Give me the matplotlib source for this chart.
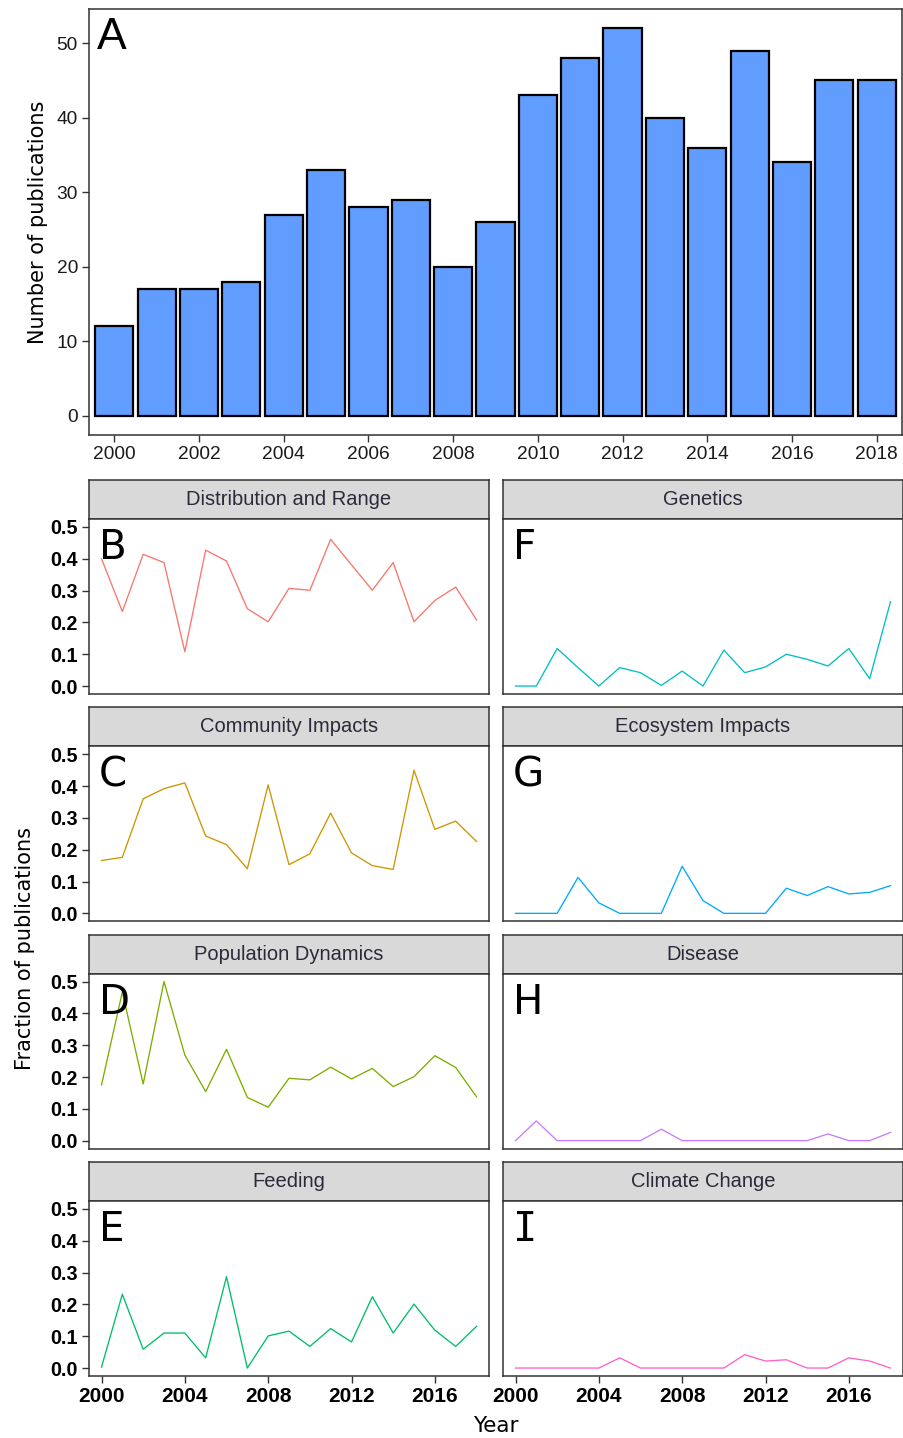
import matplotlib
matplotlib.use("Agg")
import matplotlib.pyplot as plt
import numpy as np

years = list(range(2000, 2019))
publications = [12, 17, 17, 18, 27, 33, 28, 29, 20, 26, 43, 48, 52, 40, 36, 49, 34, 45, 45]

dist_range = [0.40, 0.234, 0.414, 0.388, 0.108, 0.427, 0.393, 0.243, 0.202, 0.307,
              0.301, 0.461, 0.381, 0.301, 0.388, 0.202, 0.269, 0.311, 0.208]
community = [0.166, 0.176, 0.360, 0.392, 0.410, 0.243, 0.216, 0.140, 0.404, 0.153,
             0.187, 0.315, 0.190, 0.150, 0.138, 0.450, 0.264, 0.290, 0.226]
population = [0.175, 0.467, 0.178, 0.500, 0.269, 0.154, 0.287, 0.136, 0.105, 0.196,
              0.191, 0.231, 0.194, 0.227, 0.170, 0.201, 0.267, 0.230, 0.138]
feeding = [0.003, 0.232, 0.059, 0.110, 0.110, 0.032, 0.287, 0.0, 0.101, 0.116,
           0.068, 0.124, 0.082, 0.224, 0.110, 0.201, 0.119, 0.068, 0.131]
genetics = [0.0, 0.0, 0.118, 0.058, 0.0, 0.058, 0.042, 0.002, 0.047, 0.0,
            0.113, 0.042, 0.060, 0.100, 0.084, 0.063, 0.118, 0.023, 0.265]
ecosystem = [0.0, 0.0, 0.0, 0.113, 0.033, 0.0, 0.0, 0.0, 0.148, 0.040,
             0.0, 0.0, 0.0, 0.079, 0.056, 0.084, 0.061, 0.066, 0.087]
disease = [0.0, 0.062, 0.0, 0.0, 0.0, 0.0, 0.0, 0.036, 0.0, 0.0,
           0.0, 0.0, 0.0, 0.0, 0.0, 0.021, 0.0, 0.0, 0.026]
climate = [0.0, 0.0, 0.0, 0.0, 0.0, 0.032, 0.0, 0.0, 0.0, 0.0,
           0.0, 0.042, 0.022, 0.026, 0.0, 0.0, 0.032, 0.022, 0.0]

panel_titles = ["Distribution and Range", "Community Impacts", "Population Dynamics", "Feeding",
                "Genetics", "Ecosystem Impacts", "Disease", "Climate Change"]
panel_letters = ["B", "C", "D", "E", "F", "G", "H", "I"]
panel_series = [dist_range, community, population, feeding, genetics, ecosystem, disease, climate]
panel_colors = ["#F8766D", "#CD9600", "#7CAE00", "#00BE67", "#00BFC4", "#00A9FF", "#C77CFF", "#FF61CC"]

top_xticks = list(range(2000, 2019, 2))
bottom_xticks = list(range(2000, 2017, 4))
frac_ticks = [0.0, 0.1, 0.2, 0.3, 0.4, 0.5]
count_ticks = [0, 10, 20, 30, 40, 50]

W, H = 904, 1438
fig = plt.figure(figsize=(W / 100, H / 100), dpi=100)
fig.patch.set_facecolor("white")

BORDER = "#333333"
TICKFONT = ["Liberation Sans", "DejaVu Sans"]


def px_axes(x0, y0, x1, y1):
    return fig.add_axes([x0 / W, 1 - y1 / H, (x1 - x0) / W, (y1 - y0) / H])


def style_border(ax, lw=1.1):
    for s in ax.spines.values():
        s.set_color(BORDER)
        s.set_linewidth(lw)


# ---- Top bar chart ----
axA = px_axes(89, 9, 902, 435)
axA.bar(years, publications, width=0.9, color="#619CFF", edgecolor="black", linewidth=1.6, zorder=2)
axA.set_xlim(1999.4, 2018.6)
axA.set_ylim(-2.6, 54.6)
axA.set_xticks(top_xticks)
axA.set_yticks(count_ticks)
axA.tick_params(axis="both", direction="out", length=5, width=1, color=BORDER, pad=3)
for lab in axA.get_xticklabels() + axA.get_yticklabels():
    lab.set_fontfamily(TICKFONT)
    lab.set_fontsize(13.8)
    lab.set_color("#1a1a1a")
style_border(axA)
axA.set_ylabel("Number of publications", fontsize=15, family="DejaVu Sans", labelpad=6)
axA.text(8 / 813, 1 - 8 / 426, "A", transform=axA.transAxes, ha="left", va="top",
         fontsize=32, family=TICKFONT, zorder=5)

# ---- Facet panels ----
cols = [(89, 489), (503, 903)]
row_tops = [480, 707.3, 934.6, 1162]
STRIP_H = 39
PANEL_H = 175

for i in range(8):
    c = i // 4
    r = i % 4
    x0, x1 = cols[c]
    st = row_tops[r]
    sb = st + STRIP_H
    pb = sb + PANEL_H

    sax = px_axes(x0, st, x1, sb)
    sax.set_facecolor("#D9D9D9")
    sax.set_xticks([])
    sax.set_yticks([])
    style_border(sax)
    sax.text(0.5, 0.5, panel_titles[i], transform=sax.transAxes, ha="center", va="center",
             fontsize=14.5, family=TICKFONT, color="#2a2a3a")

    ax = px_axes(x0, sb, x1, pb)
    ax.plot(years, panel_series[i], color=panel_colors[i], linewidth=0.95, zorder=2)
    ax.set_xlim(1999.4, 2018.6)
    ax.set_ylim(-0.025, 0.525)
    ax.set_xticks(bottom_xticks)
    ax.set_yticks(frac_ticks)
    ax.tick_params(axis="both", direction="out", length=5, width=1, color=BORDER, pad=3)
    if c == 0:
        ax.set_yticklabels(["%.1f" % t for t in frac_ticks])
    else:
        ax.set_yticklabels([])
        ax.tick_params(axis="y", length=0)
    if r == 3:
        ax.set_xticklabels([str(t) for t in bottom_xticks])
    else:
        ax.set_xticklabels([])
        ax.tick_params(axis="x", length=0)
    for lab in ax.get_xticklabels():
        lab.set_fontfamily(TICKFONT)
        lab.set_fontsize(15)
        lab.set_fontweight("bold")
        lab.set_color("black")
    for lab in ax.get_yticklabels():
        lab.set_fontfamily(TICKFONT)
        lab.set_fontsize(14.2)
        lab.set_fontweight("bold")
        lab.set_color("black")
    style_border(ax)
    letter_family = ["DejaVu Sans Mono"] if panel_letters[i] == "I" else ["DejaVu Sans"]
    ax.text(10 / 400, 1 - 9 / PANEL_H, panel_letters[i], transform=ax.transAxes, ha="left", va="top",
            fontsize=29, family=letter_family, zorder=5)

fig.text(25 / W, 1 - 948 / H, "Fraction of publications", rotation=90, ha="center", va="center",
         fontsize=15, family="DejaVu Sans")
fig.text(496 / W, 1 - 1426 / H, "Year", ha="center", va="center", fontsize=15.5, family="DejaVu Sans")

fig.savefig("out.png", dpi=100, facecolor="white")
